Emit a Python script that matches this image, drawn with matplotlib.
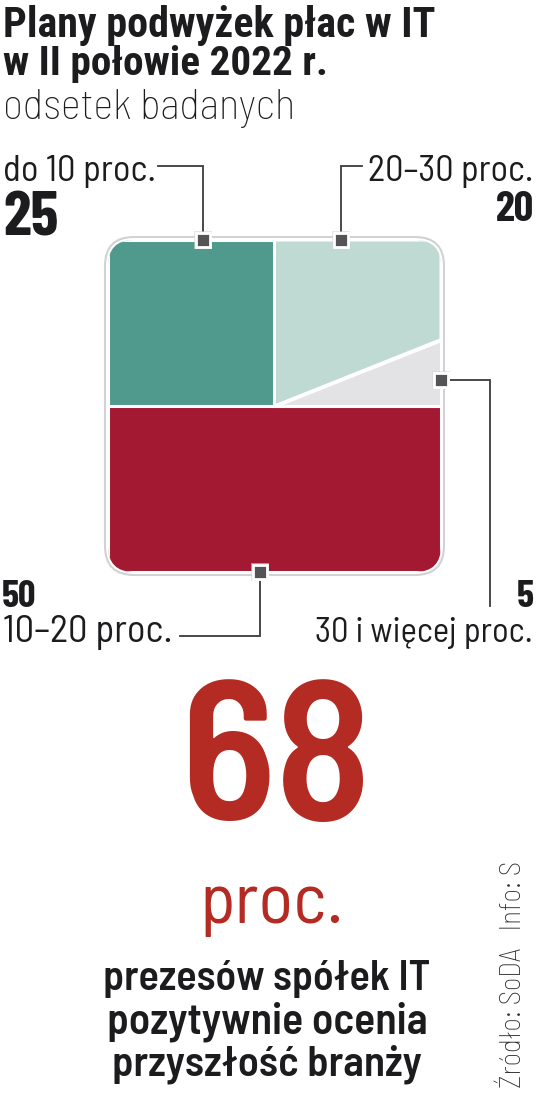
import matplotlib
matplotlib.use("Agg")
import matplotlib.pyplot as plt
from matplotlib.patches import Polygon, FancyBboxPatch, Rectangle

# ---- data ----
categories = ["do 10 proc.", "10–20 proc.", "30 i więcej proc.", "20–30 proc."]
shares = [25, 50, 5, 20]
headline_value = "68"
headline_unit = "proc."
headline_text = ["prezesów spółek IT", "pozytywnie ocenia", "przyszłość branży"]
title = ["Plany podwyżek płac w IT", "w II połowie 2022 r."]
subtitle = "odsetek badanych"
source = "Źródło: SoDA   Info: S"

# ---- palette ----
INK = "#1c1c1e"
RED_TXT = "#b32b22"
SECTOR_COLORS = ["#4f9a8d", "#a21931", "#e3e3e5", "#bfd9d3"]
MARKER = "#545457"
LEADER = "#3a3a3c"

W, H = 536, 1099
fig = plt.figure(figsize=(W / 100, H / 100), dpi=100)
ax = fig.add_axes([0, 0, 1, 1])
ax.set_xlim(0, W)
ax.set_ylim(H, 0)
ax.axis("off")
renderer = fig.canvas.get_renderer()


def put(x, y, s, width, rotation=0, **kw):
    """place text and scale its size so the rendered width matches `width` px"""
    t = ax.text(x, y, s, fontsize=20, va=kw.pop("va", "baseline"), **kw)
    bb = t.get_window_extent(renderer)
    t.set_fontsize(20 * width / bb.width)
    t.set_rotation(rotation)
    return t


def put_cap(x, y, s, cap_px, **kw):
    """place text sized by its cap height in px (Barlow cap height = 0.70 em)"""
    return ax.text(x, y, s, fontsize=cap_px / 0.70 * 0.72, va="baseline", **kw)


# ---- titles ----
put(3, 37, title[0], 432, family="Roboto Condensed", weight="bold", color=INK)
put(3, 75, title[1], 325, family="Roboto Condensed", weight="bold", color=INK)
put(3, 119, subtitle, 292, family="Barlow Semi Condensed", weight="light", color=INK)

# ---- square pie ----
x0, x1, y0, y1 = 108, 441, 240, 572
cx, cy = (x0 + x1) / 2, (y0 + y1) / 2
hw, hh = (x1 - x0) / 2, (y1 - y0) / 2
RADIUS = 26


def perim(t):
    # walk the unit square's edge counter-clockwise from top-centre, total length 8
    if t <= 1:
        return -t, 1
    if t <= 3:
        return -1, 1 - (t - 1)
    if t <= 5:
        return -1 + (t - 3), -1
    if t <= 7:
        return 1, -1 + (t - 5)
    return 1 - (t - 7), 1


def to_px(u, v):
    return cx + u * hw, cy - v * hh


# outer white frame with faint grey rim
frame = FancyBboxPatch((x0 - 3, y0 - 3), x1 - x0 + 6, y1 - y0 + 6,
                       boxstyle=f"round,pad=0,rounding_size={RADIUS + 3}",
                       facecolor="white", edgecolor="#d2d2d4", lw=1.5, zorder=1)
ax.add_patch(frame)
clip = FancyBboxPatch((x0, y0), x1 - x0, y1 - y0,
                      boxstyle=f"round,pad=0,rounding_size={RADIUS}",
                      facecolor="none", edgecolor="none", zorder=2)
ax.add_patch(clip)

total = sum(shares)
t = 0.0
for share, color in zip(shares, SECTOR_COLORS):
    t_end = t + 8 * share / total
    pts = [(0, 0), perim(t)]
    for corner in (1, 3, 5, 7):
        if t < corner < t_end:
            pts.append(perim(corner))
    pts.append(perim(t_end))
    poly = Polygon([to_px(u, v) for u, v in pts], closed=True,
                   facecolor=color, edgecolor="white", lw=2.2, zorder=3)
    ax.add_patch(poly)
    poly.set_clip_path(clip)
    t = t_end

# ---- markers and leader lines ----
def marker(x, y):
    ax.add_patch(Rectangle((x - 9, y - 9), 18, 18, facecolor="#d6d6d8",
                           edgecolor="none", alpha=0.6, zorder=5))
    ax.add_patch(Rectangle((x - 7, y - 7), 14, 14, facecolor=MARKER,
                           edgecolor="white", lw=2, zorder=6))


leaders = [
    [(203, 240), (203, 166), (158, 166)],
    [(341, 240), (341, 166), (362, 166)],
    [(441, 380), (490, 380), (490, 606)],
    [(260, 572), (260, 636), (180, 636)],
]
for path in leaders:
    xs, ys = zip(*path)
    ax.plot(xs, ys, color=LEADER, lw=1.3, zorder=4, solid_joinstyle="miter")
    marker(*path[0])

# ---- labels ----
LBL = dict(family="Barlow Semi Condensed", color=INK)
NUM = dict(family="Barlow Condensed", weight="bold", color=INK)
put(3, 181, categories[0], 153, **LBL)
put_cap(3, 235, str(shares[0]), 44, **NUM)
put(533, 181, categories[3], 166, ha="right", **LBL)
put_cap(534, 221, str(shares[3]), 30, ha="right", **NUM)
put_cap(2, 607, str(shares[1]), 27, **NUM)
put(3, 642, categories[1], 170, **LBL)
put_cap(534, 607, str(shares[2]), 27, ha="right", **NUM)
put(533, 642, categories[2], 218, ha="right", **LBL)

# ---- headline ----
put_cap(276, 820, headline_value, 139, ha="center", family="Barlow Semi Condensed",
        weight="semibold", color=RED_TXT)
put(272, 923, headline_unit, 145, ha="center", family="Barlow Semi Condensed",
    color=RED_TXT)
for y, line, w in zip((990, 1033, 1075), headline_text, (327, 320, 310)):
    put(267, y, line, w, ha="center", family="Barlow Semi Condensed",
        weight="semibold", color=INK)

put(527, 1088, source, 227, rotation=90, ha="left", va="bottom",
    rotation_mode="anchor", family="Barlow Semi Condensed", weight="light",
    color="#2a2a2c")

fig.savefig("out.png", dpi=100, facecolor="white")
